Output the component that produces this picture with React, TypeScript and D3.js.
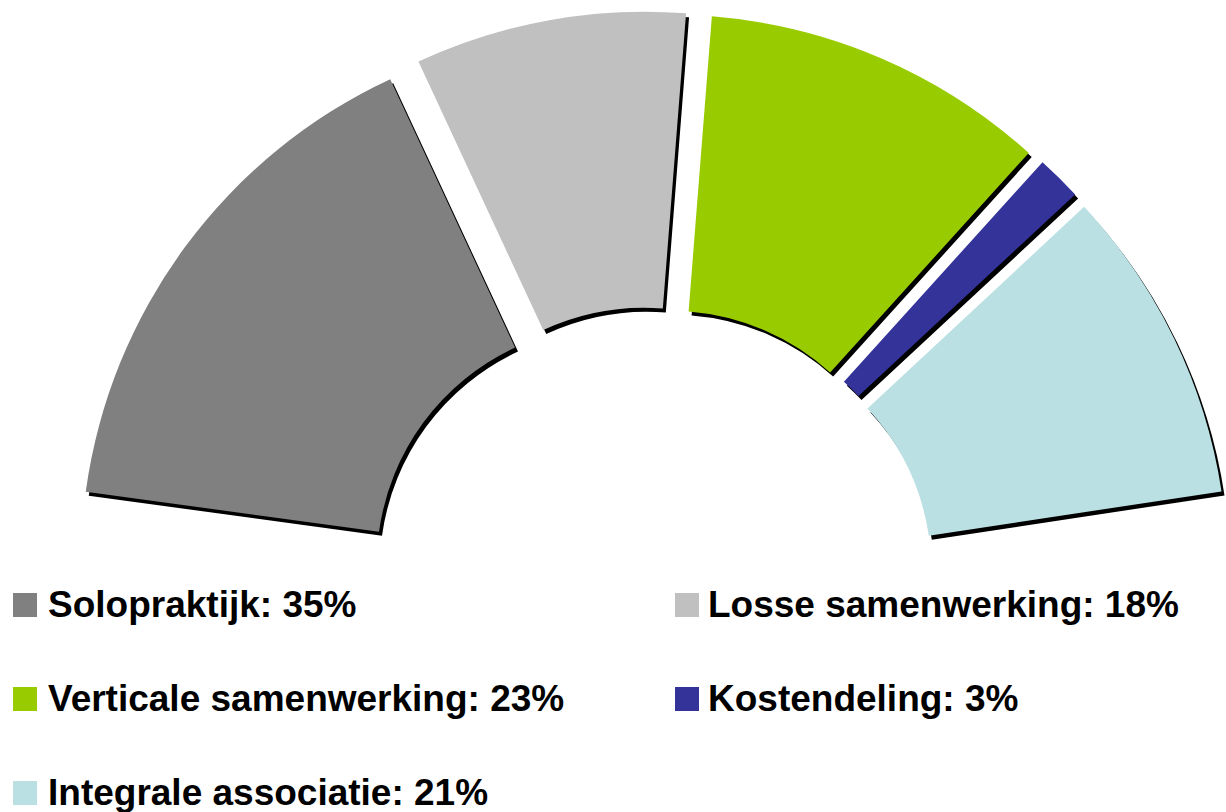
import React from "react";
import * as d3 from "d3";

const categories = ["Solopraktijk", "Losse samenwerking", "Verticale samenwerking", "Kostendeling", "Integrale associatie"];
const values = [35, 18, 23, 3, 21];
const colors = ["#808080", "#C0C0C0", "#99CC00", "#333399", "#BBE0E3"];
const legendLabels = ["Solopraktijk: 35%", "Losse samenwerking: 18%", "Verticale samenwerking: 23%", "Kostendeling: 3%", "Integrale associatie: 21%"];

const W = 1226;
const H = 812;
const CX = 652;
const CY = 591;
const R_OUT = 535;
const R_IN = 239;
const EXPLODE = 45;
const START = (-82.2 * Math.PI) / 180;
const END = (81.4 * Math.PI) / 180;

export default function App() {
  const pie = d3
    .pie<number>()
    .sort(null)
    .value((d) => d)
    .startAngle(START)
    .endAngle(END);
  const arcs = pie(values);
  const arc = d3.arc<d3.PieArcDatum<number>>().innerRadius(R_IN).outerRadius(R_OUT);

  const offsets = arcs.map((a) => {
    const mid = (a.startAngle + a.endAngle) / 2;
    return [EXPLODE * Math.sin(mid), -EXPLODE * Math.cos(mid)];
  });

  const legendX = [13, 675];
  const textX = [48, 708];
  const baselines = [617, 711, 805];

  return (
    <svg
      width={W}
      height={H}
      style={{ position: "absolute", left: 0, top: 0, background: "#fff" }}
      fontFamily="'Liberation Sans', Arial, sans-serif"
    >
      <g transform={`translate(${CX},${CY})`}>
        {arcs.map((a, i) => (
          <path
            key={"s" + i}
            d={arc(a) || ""}
            fill="#000"
            transform={`translate(${offsets[i][0] + 3},${offsets[i][1] + 4})`}
          />
        ))}
        {arcs.map((a, i) => (
          <path
            key={"f" + i}
            d={arc(a) || ""}
            fill={colors[i]}
            transform={`translate(${offsets[i][0]},${offsets[i][1]})`}
          />
        ))}
      </g>
      {categories.map((c, i) => {
        const col = i % 2;
        const row = Math.floor(i / 2);
        return (
          <g key={c}>
            <rect x={legendX[col]} y={baselines[row] - 24} width={24} height={24} fill={colors[i]} />
            <text x={textX[col]} y={baselines[row]} fontSize={37} fontWeight="bold" fill="#000">
              {legendLabels[i]}
            </text>
          </g>
        );
      })}
    </svg>
  );
}
